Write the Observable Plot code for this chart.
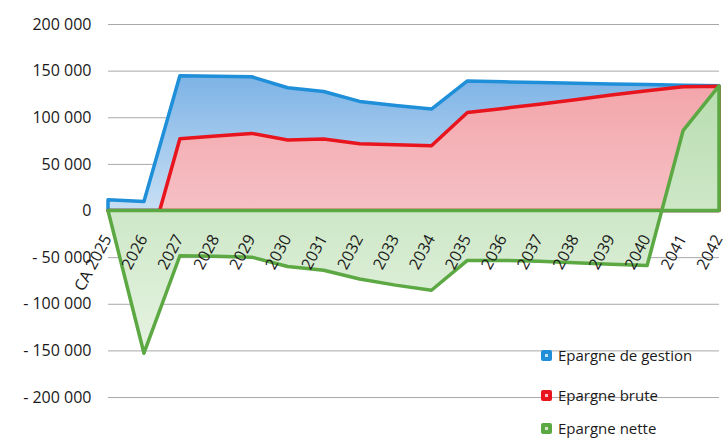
<!DOCTYPE html>
<html>
<head>
<meta charset="utf-8">
<script src="https://cdn.jsdelivr.net/npm/d3@7"></script>
<script src="https://cdn.jsdelivr.net/npm/@observablehq/plot@0.6"></script>
<style>
  html, body { margin: 0; padding: 0; background: #fff; }
  #wrap { position: relative; width: 726px; height: 439px; overflow: hidden; font-family: "Open Sans", sans-serif; }
  .leg { position: absolute; left: 541px; display: flex; align-items: center; font-size: 15px; color: #1a1a1a; white-space: nowrap; }
  .sw { width: 11px; height: 11px; border-radius: 2px; margin-right: 6px; display: flex; align-items: center; justify-content: center; }
  .sw i { display: block; width: 3px; height: 3px; background: rgba(255,255,255,0.75); }
</style>
</head>
<body>
<div id="wrap"></div>
<script>
const categories = ["CA 2025","2026","2027","2028","2029","2030","2031","2032","2033","2034","2035","2036","2037","2038","2039","2040","2041","2042"];
const epargneGestion = [11500, 9600, 144500, 144000, 143400, 131600, 127600, 117000, 112500, 108800, 139000, 138000, 137200, 136400, 135600, 135000, 134300, 133700];
const epargneBrute   = [0, -60000, 77000, 80000, 82700, 75600, 76700, 71500, 70600, 69500, 105200, 109500, 114000, 118700, 123800, 128400, 132700, 133200];
const epargneNette   = [0, -153000, -48500, -49000, -50000, -60000, -64000, -73500, -80000, -85500, -53500, -53500, -54500, -56000, -57500, -59000, 85600, 133700];
const yTicks = [-200000, -150000, -100000, -50000, 0, 50000, 100000, 150000, 200000];
const seriesNames = ["Epargne de gestion", "Epargne brute", "Epargne nette"];
const seriesColors = ["#1e8fd8", "#e8141e", "#5ca843"];

const data = categories.map((c, i) => ({cat: c, gestion: epargneGestion[i], brute: epargneBrute[i], nette: epargneNette[i]}));

const fmt = d => {
  const s = Math.abs(d).toString().replace(/\B(?=(\d{3})+(?!\d))/g, " ");
  return d < 0 ? "- " + s : s;
};

function gradients() {
  const g = d3.create("svg:g");
  const defs = g.append("defs");
  const mk = (id, c0, c1) => {
    const lg = defs.append("linearGradient").attr("id", id).attr("x1", 0).attr("y1", 0).attr("x2", 0).attr("y2", 1);
    lg.append("stop").attr("offset", "0%").attr("stop-color", c0);
    lg.append("stop").attr("offset", "100%").attr("stop-color", c1);
  };
  mk("gBlue", "#7db3e6", "#c8dff4");
  mk("gRed", "#f3a6ab", "#f6ccd1");
  mk("gGreen", "#b8ddb0", "#e6f3e2");
  return g.node();
}

const plot = Plot.plot({
  width: 726,
  height: 439,
  marginLeft: 108,
  marginRight: 7,
  marginTop: 24,
  marginBottom: 0,
  style: {fontFamily: "Open Sans, sans-serif", fontSize: "16px", color: "#1a1a1a", background: "transparent"},
  x: {type: "point", domain: categories, range: [108, 719], padding: 0, round: false, axis: null},
  y: {domain: [-245000, 200000], ticks: yTicks, tickSize: 0, tickPadding: 17, tickFormat: fmt, label: null},
  marks: [
    gradients,
    Plot.ruleY(yTicks, {stroke: "#a8a8a8", strokeWidth: 1}),
    Plot.areaY(data, {x: "cat", y1: () => 0, y2: "gestion", fill: "url(#gBlue)", stroke: seriesColors[0], strokeWidth: 3.5, strokeLinejoin: "round"}),
    Plot.areaY(data, {x: "cat", y1: () => 0, y2: "brute", fill: "url(#gRed)", stroke: seriesColors[1], strokeWidth: 3.5, strokeLinejoin: "round"}),
    Plot.areaY(data, {x: "cat", y1: () => 0, y2: "nette", fill: "url(#gGreen)", stroke: seriesColors[2], strokeWidth: 3.5, strokeLinejoin: "round"}),
    Plot.text(data, {x: "cat", y: () => 0, text: "cat", rotate: -62, textAnchor: "end", dy: 25, dx: -1, fontSize: 16, fill: "#1a1a1a"})
  ]
});

const wrap = document.getElementById("wrap");
wrap.appendChild(plot);

const legendY = [355, 395, 428];
seriesNames.forEach((name, i) => {
  const d = document.createElement("div");
  d.className = "leg";
  d.style.top = (legendY[i] - 11) + "px";
  d.style.height = "22px";
  const sw = document.createElement("span");
  sw.className = "sw";
  sw.style.background = seriesColors[i];
  sw.appendChild(document.createElement("i"));
  const t = document.createElement("span");
  t.textContent = name;
  d.appendChild(sw);
  d.appendChild(t);
  wrap.appendChild(d);
});
</script>
</body>
</html>
